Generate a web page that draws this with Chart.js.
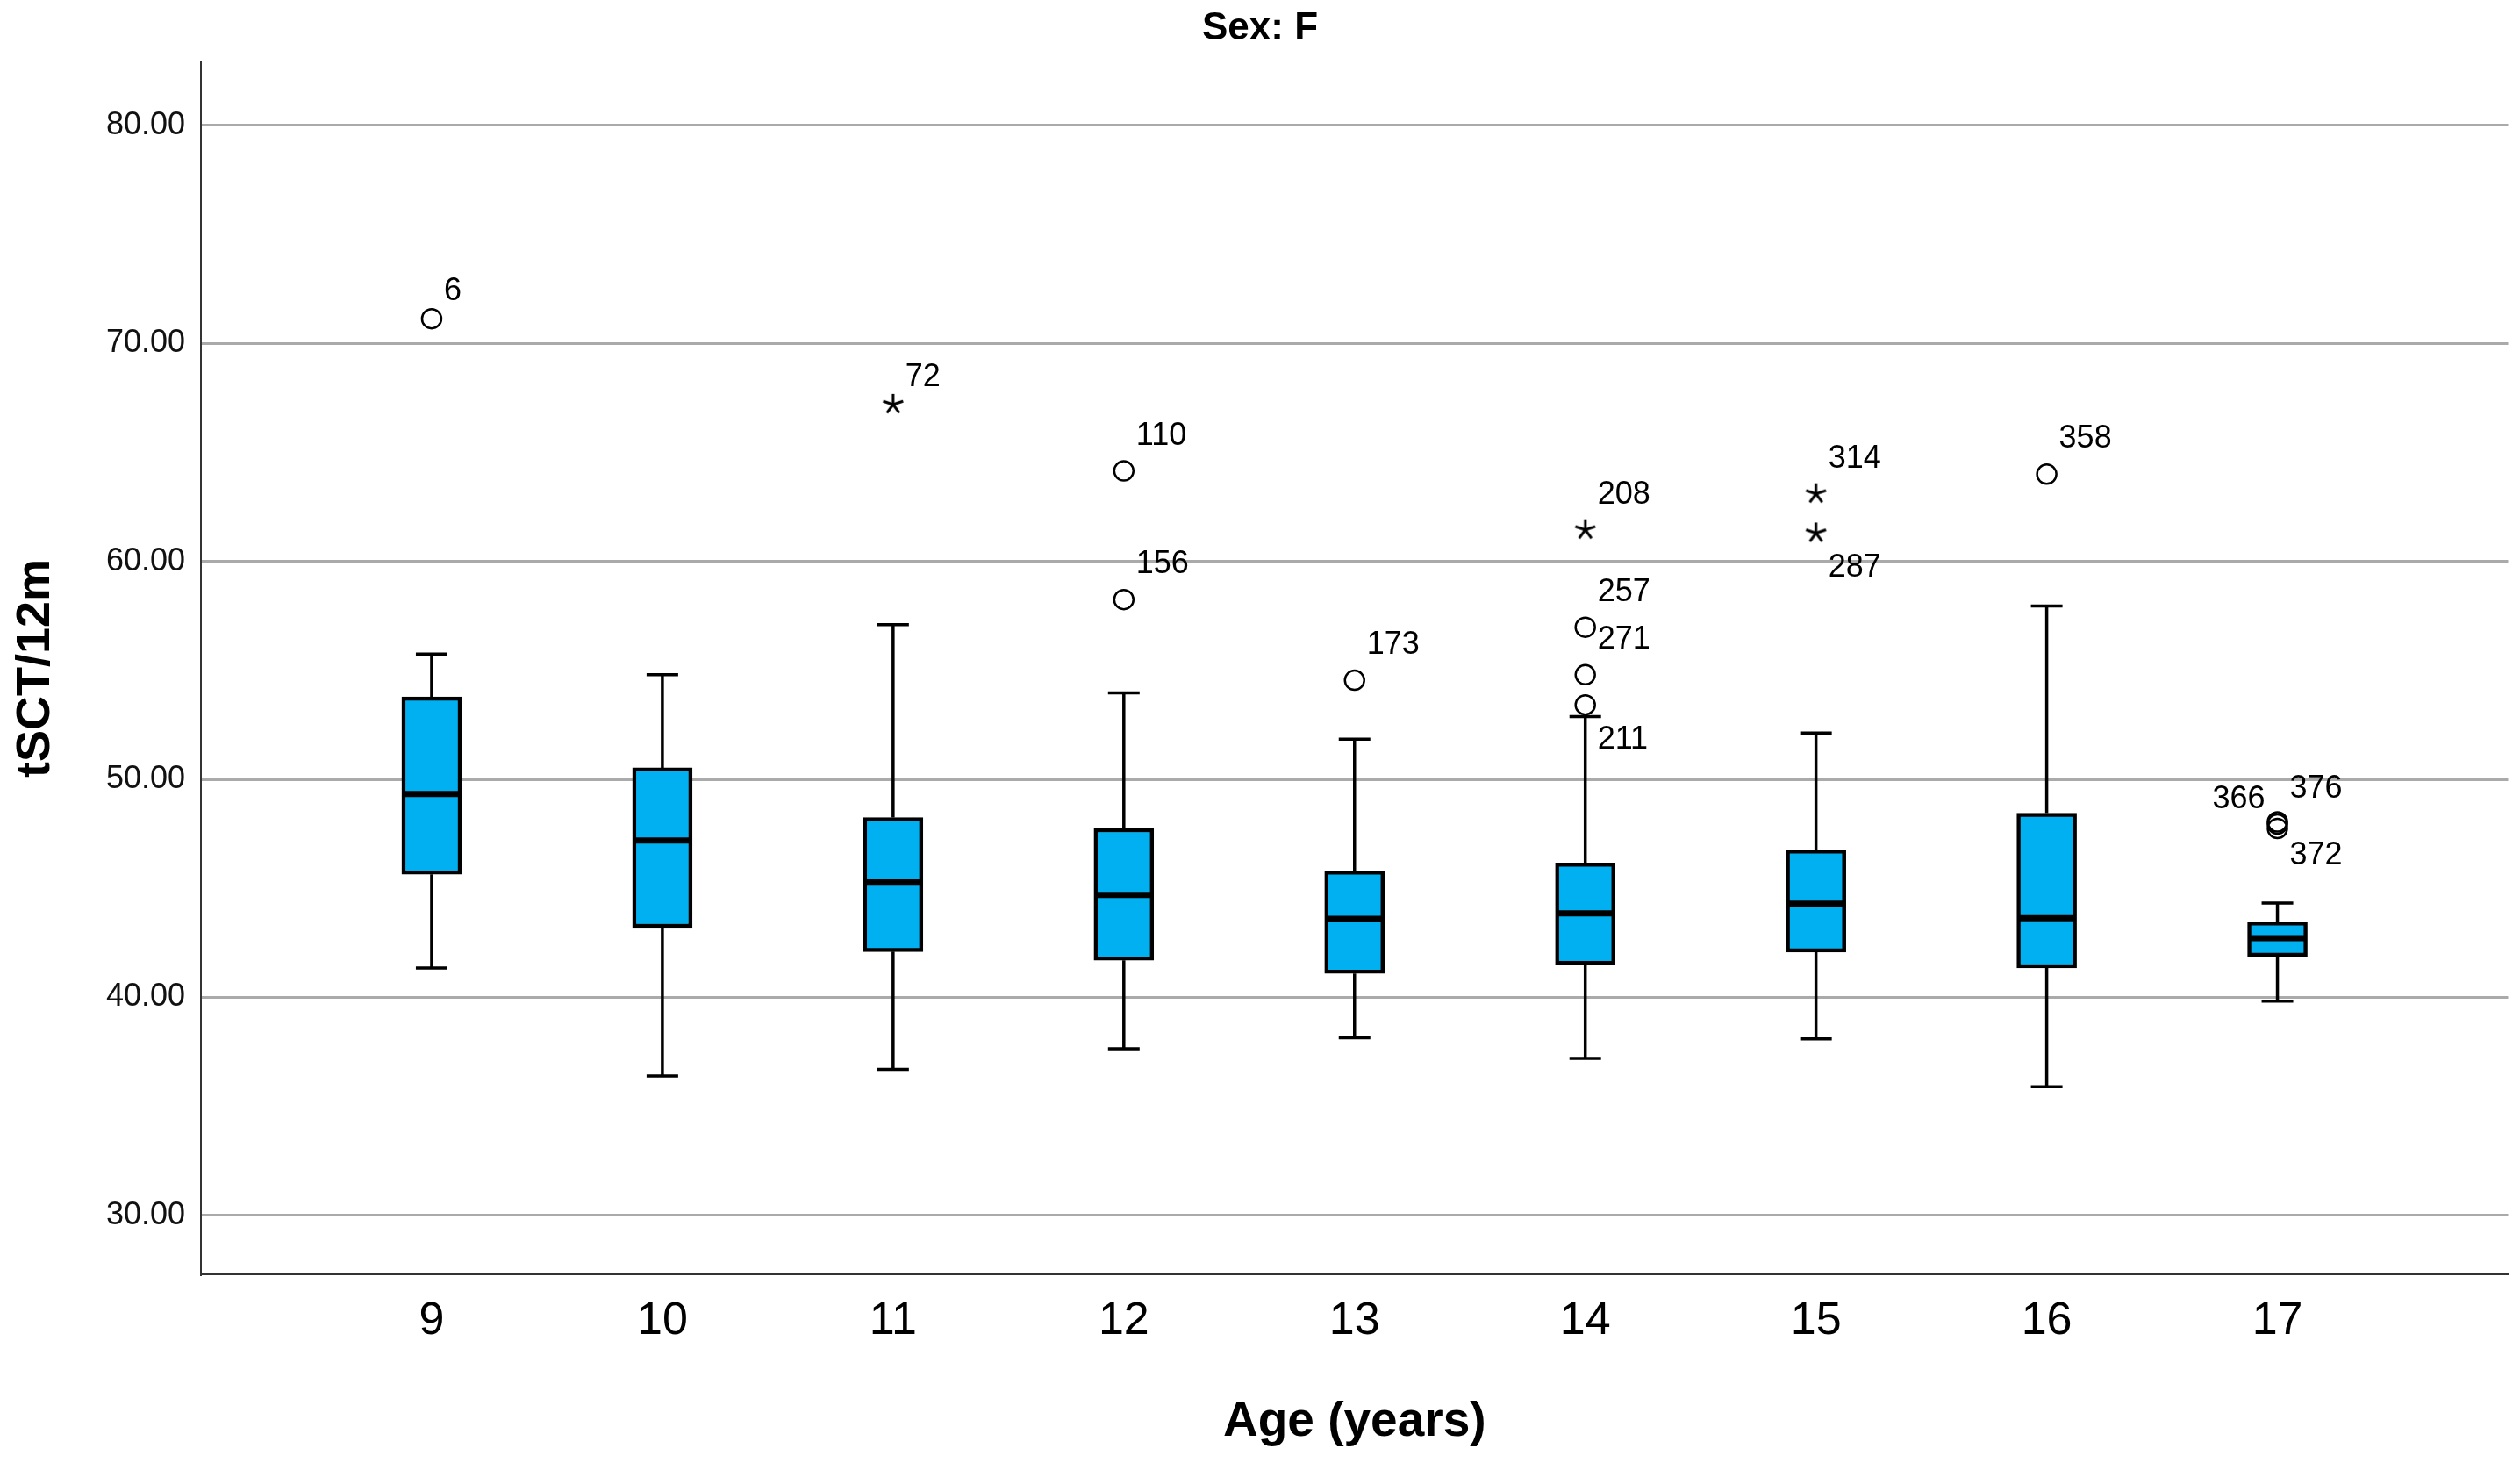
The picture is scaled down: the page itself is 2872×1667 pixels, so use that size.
<!DOCTYPE html>
<html lang="en">
<head>
<meta charset="UTF-8">
<title>tSCT/12m by age - Sex: F</title>
<script src="https://cdn.jsdelivr.net/npm/chart.js"></script>
<style>
    html, body { margin: 0; padding: 0; background: #fff; }
    #wrap { width: 2872px; height: 1667px; }
</style>
</head>
<body>
<div id="wrap"><canvas id="boxChart"></canvas></div>

<script>
// box plot summary per age group
const ages        = [9, 10, 11, 12, 13, 14, 15, 16, 17];
const whiskerLow  = [41.35, 36.40, 36.70, 37.65, 38.15, 37.20, 38.10, 35.90, 39.83];
const q1          = [45.65, 43.20, 42.10, 41.70, 41.10, 41.50, 42.08, 41.35, 41.88];
const median      = [49.33, 47.20, 45.30, 44.70, 43.60, 43.85, 44.30, 43.63, 42.72];
const q3          = [53.78, 50.53, 48.25, 47.75, 45.80, 46.17, 46.77, 48.45, 43.47];
const whiskerHigh = [55.75, 54.80, 57.10, 53.97, 51.85, 52.88, 52.13, 57.95, 44.33];

// outliers (circles) and extremes (stars) with case numbers
const circleAge   = [9, 12, 12, 13, 14, 14, 14, 16, 17, 17, 17];
const circleValue = [71.13, 64.15, 58.25, 54.55, 56.98, 54.80, 53.42, 64.00, 48.05, 47.95, 47.75];
const circleCase  = ['6', '110', '156', '173', '257', '271', '211', '358', '366', '376', '372'];

const starAge   = [11, 14, 15, 15];
const starValue = [67.20, 61.45, 63.10, 61.30];
const starCase  = ['72', '208', '314', '287'];

const yTicks = [30, 40, 50, 60, 70, 80];

// where each case label sits next to its point
const circleLabelPos = ['urn', 'ur', 'ur', 'ur', 'ur', 'ur', 'lr', 'ur', 'ul', 'ur', 'lrn'];
const starLabelPos   = ['urn', 'ur', 'ur', 'lr'];
const labelOffset = {
    ur:  [14, -40, 'left'],
    urn: [14, -31, 'left'],
    lr:  [14, 40, 'left'],
    lrn: [14, 31, 'left'],
    ul:  [-14, -25, 'right']
};

Chart.defaults.font.family = "'Liberation Sans', Arial, sans-serif";
Chart.defaults.color = '#000';

function makeStar(r, lw) {
    const c = document.createElement('canvas');
    const s = Math.ceil(2 * r + 2 * lw);
    c.width = s;
    c.height = s;
    const g = c.getContext('2d');
    g.strokeStyle = '#000';
    g.lineWidth = lw;
    for (let k = 0; k < 5; k++) {
        const a = (-90 + 72 * k) * Math.PI / 180;
        g.beginPath();
        g.moveTo(s / 2, s / 2);
        g.lineTo(s / 2 + r * Math.cos(a), s / 2 + r * Math.sin(a));
        g.stroke();
    }
    return c;
}

const boxParts = {
    id: 'boxParts',
    beforeDatasetsDraw(chart) {
        const { ctx, scales: { x, y } } = chart;
        const cap = 18;
        ctx.save();
        ctx.strokeStyle = '#000';
        ctx.lineWidth = 3.5;
        ages.forEach((a, i) => {
            const px = x.getPixelForValue(a);
            const hi = y.getPixelForValue(whiskerHigh[i]);
            const lo = y.getPixelForValue(whiskerLow[i]);
            ctx.beginPath();
            ctx.moveTo(px, y.getPixelForValue(q3[i]));
            ctx.lineTo(px, hi);
            ctx.moveTo(px, y.getPixelForValue(q1[i]));
            ctx.lineTo(px, lo);
            ctx.moveTo(px - cap, hi);
            ctx.lineTo(px + cap, hi);
            ctx.moveTo(px - cap, lo);
            ctx.lineTo(px + cap, lo);
            ctx.stroke();
        });
        ctx.restore();
    },
    afterDatasetsDraw(chart) {
        const { ctx, scales: { x, y } } = chart;
        const bars = chart.getDatasetMeta(0).data;
        ctx.save();
        ctx.strokeStyle = '#000';
        ctx.lineWidth = 7;
        ages.forEach((a, i) => {
            const px = x.getPixelForValue(a);
            const half = bars[i].width / 2 - 2;
            const my = y.getPixelForValue(median[i]);
            ctx.beginPath();
            ctx.moveTo(px - half, my);
            ctx.lineTo(px + half, my);
            ctx.stroke();
        });

        ctx.fillStyle = '#000';
        ctx.font = "36px 'Liberation Sans', Arial, sans-serif";
        ctx.textBaseline = 'middle';
        const put = (ageArr, valArr, caseArr, posArr) => {
            caseArr.forEach((txt, i) => {
                const [dx, dy, align] = labelOffset[posArr[i]];
                ctx.textAlign = align;
                ctx.fillText(txt, x.getPixelForValue(ageArr[i]) + dx, y.getPixelForValue(valArr[i]) + dy);
            });
        };
        put(circleAge, circleValue, circleCase, circleLabelPos);
        put(starAge, starValue, starCase, starLabelPos);
        ctx.restore();
    }
};

new Chart(document.getElementById('boxChart'), {
    type: 'bar',
    data: {
        datasets: [{
            type: 'bar',
            label: 'IQR',
            data: ages.map((a, i) => ({ x: a, y: [q1[i], q3[i]] })),
            backgroundColor: '#00b0f0',
            borderColor: '#000',
            borderWidth: 4.5,
            borderSkipped: false,
            barThickness: 68
        }, {
            type: 'scatter',
            label: 'Outliers',
            data: circleAge.map((a, i) => ({ x: a, y: circleValue[i] })),
            pointStyle: 'circle',
            pointRadius: 11,
            pointBorderWidth: 2.5,
            pointBorderColor: '#000',
            pointBackgroundColor: 'rgba(255,255,255,0)'
        }, {
            type: 'scatter',
            label: 'Extremes',
            data: starAge.map((a, i) => ({ x: a, y: starValue[i] })),
            pointStyle: makeStar(12, 3),
            pointRadius: 12
        }]
    },
    options: {
        responsive: true,
        maintainAspectRatio: false,
        devicePixelRatio: 1,
        animation: false,
        layout: { padding: { left: 0, right: 0, top: 0, bottom: 0 } },
        plugins: {
            legend: { display: false },
            tooltip: { enabled: false },
            title: {
                display: true,
                text: 'Sex: F',
                font: { size: 44, weight: 'bold' },
                color: '#000',
                padding: { top: 6, bottom: 12 }
            }
        },
        scales: {
            x: {
                type: 'linear',
                min: 8,
                max: 18,
                offset: false,
                afterBuildTicks: s => { s.ticks = ages.map(v => ({ value: v })); },
                afterFit: s => { s.height = 215; },
                ticks: { font: { size: 52 }, color: '#000', padding: 22, autoSkip: false, maxRotation: 0 },
                grid: { display: true, drawOnChartArea: false, drawTicks: false, offset: false },
                border: { display: true, color: '#333', width: 2 },
                title: {
                    display: true,
                    text: 'Age (years)',
                    font: { size: 55, weight: 'bold' },
                    color: '#000',
                    padding: { top: 0, bottom: 13 }
                }
            },
            y: {
                min: 27.3,
                max: 82.9,
                afterBuildTicks: s => { s.ticks = yTicks.map(v => ({ value: v })); },
                afterFit: s => { s.width = 229; },
                ticks: { callback: v => v.toFixed(2), font: { size: 36 }, color: '#111', padding: 18 },
                grid: { color: '#aaaaaa', lineWidth: 3, drawTicks: false },
                border: { display: true, color: '#333', width: 2 },
                title: {
                    display: true,
                    text: 'tSCT/12m',
                    font: { size: 54, weight: 'bold' },
                    color: '#000',
                    padding: { top: 9, bottom: 0 }
                }
            }
        }
    },
    plugins: [boxParts]
});
</script>
</body>
</html>
